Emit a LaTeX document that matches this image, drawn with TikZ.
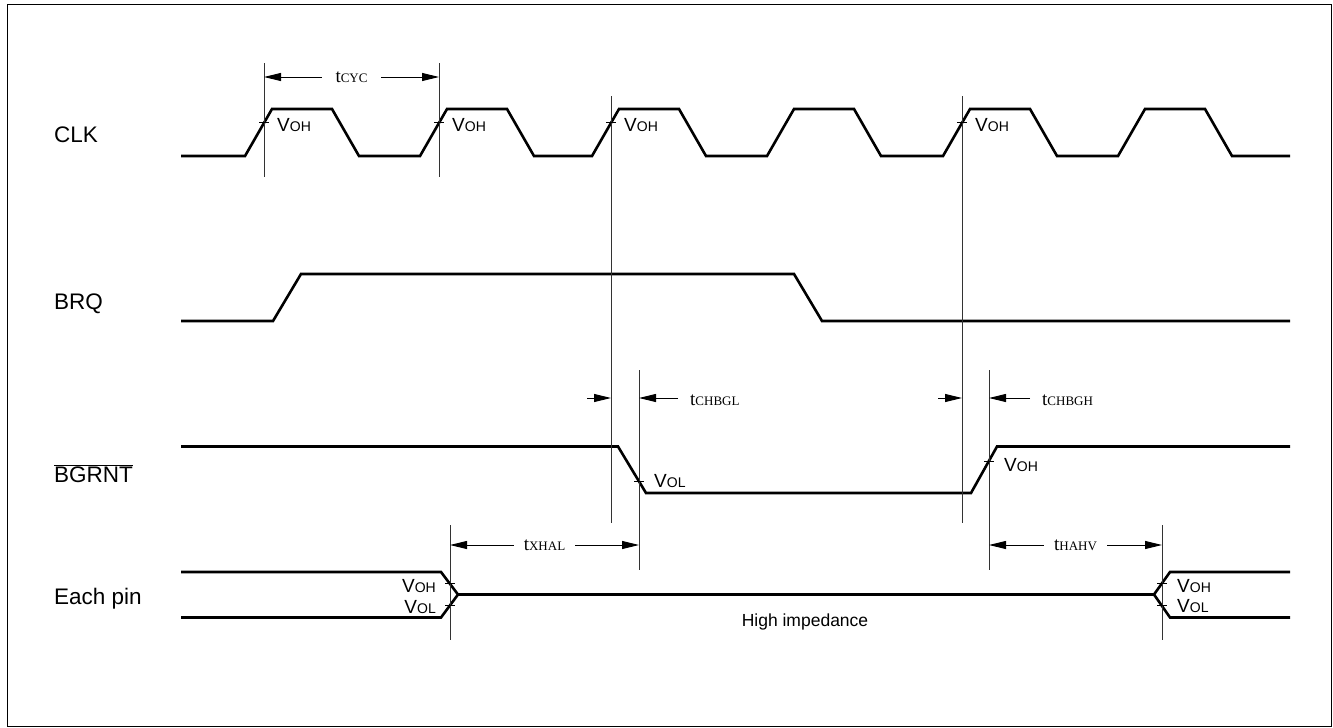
\documentclass[tikz,border=0pt]{standalone}
\usepackage{fontspec}
\setmainfont{Liberation Serif}
\setsansfont{Liberation Sans}
\usetikzlibrary{arrows.meta}
\newcommand{\tlab}[1]{{\rmfamily\fontsize{19}{20}\selectfont t\fontsize{13}{14}\selectfont #1}}
\newcommand{\vlev}[1]{{\sffamily\fontsize{19}{20}\selectfont V\fontsize{14}{15}\selectfont #1}}

\begin{document}
\begin{tikzpicture}[x=1pt, y=-1pt,
  sig/.style={line width=2.6pt},
  guide/.style={line width=0.9pt, black!80},
  vtick/.style={line width=0.9pt},
  dimarr/.style={line width=0.9pt, -{Triangle[length=17pt,width=8pt]}},
  dimboth/.style={line width=0.9pt, {Triangle[length=17pt,width=8pt]}-{Triangle[length=17pt,width=8pt]}},
  tlabel/.style={fill=white, inner xsep=10pt, inner ysep=1pt},
  sname/.style={font=\sffamily\fontsize{22.5}{24}\selectfont, anchor=base west, inner sep=0pt},
  lvl/.style={inner sep=0pt, anchor=base west}]
  \useasboundingbox (0,0) rectangle (1333,728);
  \draw[line width=1.5pt] (7.5,4.5) rectangle (1331.5,726.5);

  % signal names
  \node[sname] (clk) at (54,142) {CLK};
  \node[sname] (brq) at (54,309) {BRQ};
  \node[sname] (bgrnt) at (54,482) {$\overline{\mbox{BGRNT}}$};
  \node[sname] (pin) at (54,604) {Each pin};

  % waveforms
  \draw[sig] (181,156) foreach \r in {245,420,592,767,943,1118} {
    -- (\r,156) -- (\r+27,109) -- (\r+87,109) -- (\r+114,156) } -- (1290,156);
  \draw[sig] (181,321) -- (273,321) -- (301,274) -- (794,274) -- (822,321) -- (1290,321);
  \draw[sig] (181,446.5) -- (618,446.5) -- (646,493) -- (971,493) -- (997,446.5) -- (1290,446.5);
  \draw[sig] (181,572) -- (441,572) -- (458,594.5) -- (1154,594.5) -- (1170,572) -- (1290,572);
  \draw[sig] (181,617.5) -- (441,617.5) -- (458,594.5);
  \draw[sig] (1154,594.5) -- (1170,617.5) -- (1290,617.5);

  % timing reference lines
  \foreach \n/\x/\a/\b in {1/264/63/177, 2/439/63/177, 3/611/96/523, 4/962/96/523,
                           5/639/370/570, 6/989/370/570, 7/450/525/640, 8/1162/525/640} {
    \coordinate (g\n t) at (\x,\a);
    \coordinate (g\n b) at (\x,\b);
    \draw[guide] (g\n t) -- (g\n b);
  }

  % level marks
  \foreach \x [count=\i] in {264,439,611,962} {
    \draw[vtick] (\x-5,122) -- (\x+5,122);
    \node[lvl] (vc\i) at (\x+13,131) {\vlev{OH}};
  }
  \draw[vtick] (634,481) -- (644,481);
  \node[lvl] (vgl) at (654,487) {\vlev{OL}};
  \draw[vtick] (984,461) -- (994,461);
  \node[lvl] (vgh) at (1004,471) {\vlev{OH}};
  \draw[vtick] (445,583.5) -- (455,583.5);
  \draw[vtick] (445,605.5) -- (455,605.5);
  \draw[vtick] (1157,583.5) -- (1167,583.5);
  \draw[vtick] (1157,605.5) -- (1167,605.5);
  \node[lvl, anchor=base east] (vp1) at (436,592.5) {\vlev{OH}};
  \node[lvl, anchor=base east] (vp2) at (436,613) {\vlev{OL}};
  \node[lvl] (vp3) at (1177,592) {\vlev{OH}};
  \node[lvl] (vp4) at (1177,612) {\vlev{OL}};

  % timing parameters
  \coordinate (cyA) at (264,77);  \coordinate (cyB) at (439,77);
  \draw[dimboth] (cyA) -- node[tlabel, inner xsep=13pt] {\tlab{CYC}} (cyB);

  \coordinate (glA) at (587,398); \coordinate (glB) at (611,398);
  \coordinate (glC) at (639,398); \coordinate (glD) at (678,398);
  \draw[dimarr] (glA) -- (glB);
  \draw[dimarr] (glD) -- (glC);
  \node[anchor=base west, inner sep=0pt] (tgl) at (690,405) {\tlab{CHBGL}};

  \coordinate (ghA) at (938,398); \coordinate (ghB) at (962,398);
  \coordinate (ghC) at (989,398); \coordinate (ghD) at (1030,398);
  \draw[dimarr] (ghA) -- (ghB);
  \draw[dimarr] (ghD) -- (ghC);
  \node[anchor=base west, inner sep=0pt] (tgh) at (1042,405) {\tlab{CHBGH}};

  \coordinate (xhA) at (450,545); \coordinate (xhB) at (639,545);
  \draw[dimboth] (xhA) -- node[tlabel] {\tlab{XHAL}} (xhB);
  \coordinate (hvA) at (989,545); \coordinate (hvB) at (1162,545);
  \draw[dimboth] (hvA) -- node[tlabel] {\tlab{HAHV}} (hvB);

  \node[anchor=base, font=\sffamily\fontsize{17.5}{18}\selectfont] (hiz) at (805,626) {High impedance};
\end{tikzpicture}
\end{document}
